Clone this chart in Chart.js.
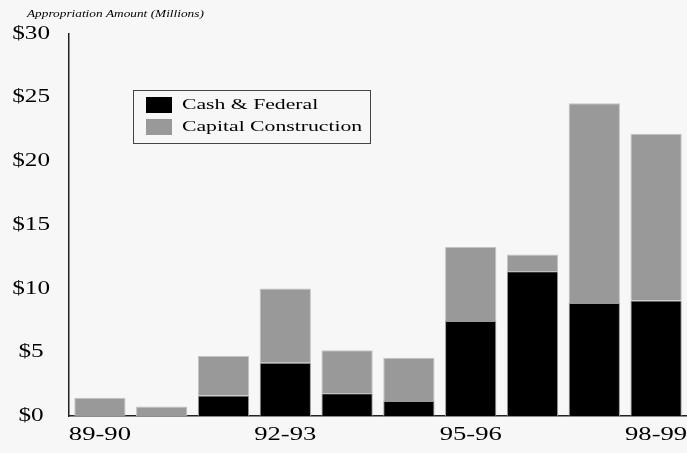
<!DOCTYPE html>
<html>
<head>
<meta charset="utf-8">
<script src="https://cdn.jsdelivr.net/npm/chart.js@4.4.0/dist/chart.umd.min.js"></script>
<style>
  html, body { margin:0; padding:0; background:#f7f7f7; overflow:hidden; }
  canvas { display:block; }
</style>
</head>
<body>
<canvas id="chart" width="687" height="453"></canvas>
<script>
// fiscal years
var years = ['89-90','90-91','91-92','92-93','93-94','94-95','95-96','96-97','97-98','98-99']
var shownYears = ['89-90','92-93','95-96','98-99']
// appropriations, millions of dollars
var cashFederal = [0, 0, 1.63, 4.2, 1.81, 1.2, 7.48, 11.37, 8.89, 9.08]
var capitalConstruction = [1.45, 0.76, 3.1, 5.82, 3.36, 3.38, 5.8, 1.33, 15.67, 13.09]
var yTicks = [0, 5, 10, 15, 20, 25, 30]

var serif = "'Liberation Serif', 'Times New Roman', serif"
var STRETCH = 1.4   // el original tiene las letras ensanchadas
var BASELINE = 427  // donde cae el eje x en el original

/* texto ensanchado horizontalmente */
function stretchText(ctx){
    var fill = ctx.fillText.bind(ctx)
    var measure = ctx.measureText.bind(ctx)
    ctx.fillText = function(t, x, y){
        ctx.save()
        ctx.translate(x, y)
        ctx.scale(STRETCH, 1)
        fill(t, 0, 0)
        ctx.restore()
    }
    ctx.measureText = function(t){
        var m = measure(t)
        return {
            width: m.width * STRETCH,
            actualBoundingBoxAscent: m.actualBoundingBoxAscent,
            actualBoundingBoxDescent: m.actualBoundingBoxDescent,
            actualBoundingBoxLeft: m.actualBoundingBoxLeft * STRETCH,
            actualBoundingBoxRight: m.actualBoundingBoxRight * STRETCH
        }
    }
}

/* titulo y leyenda dibujados a mano */
var decor = {
    id: 'decor',
    afterDraw: function(chart){
        var ctx = chart.ctx
        ctx.save()
        ctx.fillStyle = '#000'
        ctx.font = 'italic 9.5px ' + serif
        ctx.textBaseline = 'middle'
        ctx.textAlign = 'left'
        ctx.fillText('Appropriation Amount (Millions)', 27, 14)

        // caja de la leyenda
        ctx.fillStyle = '#f7f7f7'
        ctx.fillRect(133, 90, 237, 53)
        ctx.strokeStyle = '#444'
        ctx.lineWidth = 1
        ctx.strokeRect(133.5, 90.5, 237, 53)
        var ds = chart.data.datasets
        for(var i = 0; i < ds.length; ++i){
            var y = 97 + i*22
            ctx.fillStyle = ds[i].backgroundColor
            ctx.fillRect(146, y, 26, 16)
            ctx.fillStyle = '#000'
            ctx.font = '15.5px ' + serif
            ctx.fillText(ds[i].label, 182, y + 8)
        }
        ctx.restore()
    }
}

var canvas = document.getElementById('chart')
var context = canvas.getContext('2d')
stretchText(context)

var chart = new Chart(context, {
    type: 'bar',
    data: {
        labels: years,
        datasets: [
            { label: 'Cash & Federal', data: cashFederal, backgroundColor: '#000000', borderColor: '#9a9a9a', borderWidth: 1 },
            { label: 'Capital Construction', data: capitalConstruction, backgroundColor: '#999999', borderColor: '#c4c4c4', borderWidth: 1 }
        ]
    },
    options: {
        responsive: false,
        animation: false,
        layout: { padding: { top: 34, left: 8, right: 0, bottom: 0 } },
        datasets: { bar: { barPercentage: 0.83, categoryPercentage: 1 } },
        plugins: {
            legend: { display: false },
            tooltip: { enabled: false }
        },
        scales: {
            x: {
                stacked: true,
                grid: { display: false, drawTicks: false },
                border: { display: true, color: '#222', width: 1.5 },
                afterFit: function(axis){ axis.paddingRight = 0 },
                ticks: {
                    autoSkip: false,
                    maxRotation: 0,
                    padding: 7,
                    color: '#000',
                    font: { family: serif, size: 19 },
                    callback: function(v, i){
                        var l = years[i]
                        return shownYears.indexOf(l) >= 0 ? l : ''
                    }
                }
            },
            y: {
                stacked: true,
                min: 0,
                max: 30,
                grid: { display: false, drawTicks: false },
                border: { display: true, color: '#222', width: 1.5 },
                afterBuildTicks: function(axis){
                    axis.ticks = yTicks.map(function(v){ return { value: v } })
                },
                afterFit: function(axis){ axis.width = 61 },
                ticks: {
                    padding: 19,
                    crossAlign: 'center',
                    color: '#000',
                    font: { family: serif, size: 18 },
                    callback: function(v){ return '$' + v }
                }
            }
        }
    },
    plugins: [decor]
})

// el eje x queda algo alto: se alarga el canvas (lo sobrante queda fuera de la ventana)
var diff = BASELINE - chart.chartArea.bottom
if(Math.abs(diff) > 0.5)
    chart.resize(687, Math.round(453 + diff))
</script>
</body>
</html>
